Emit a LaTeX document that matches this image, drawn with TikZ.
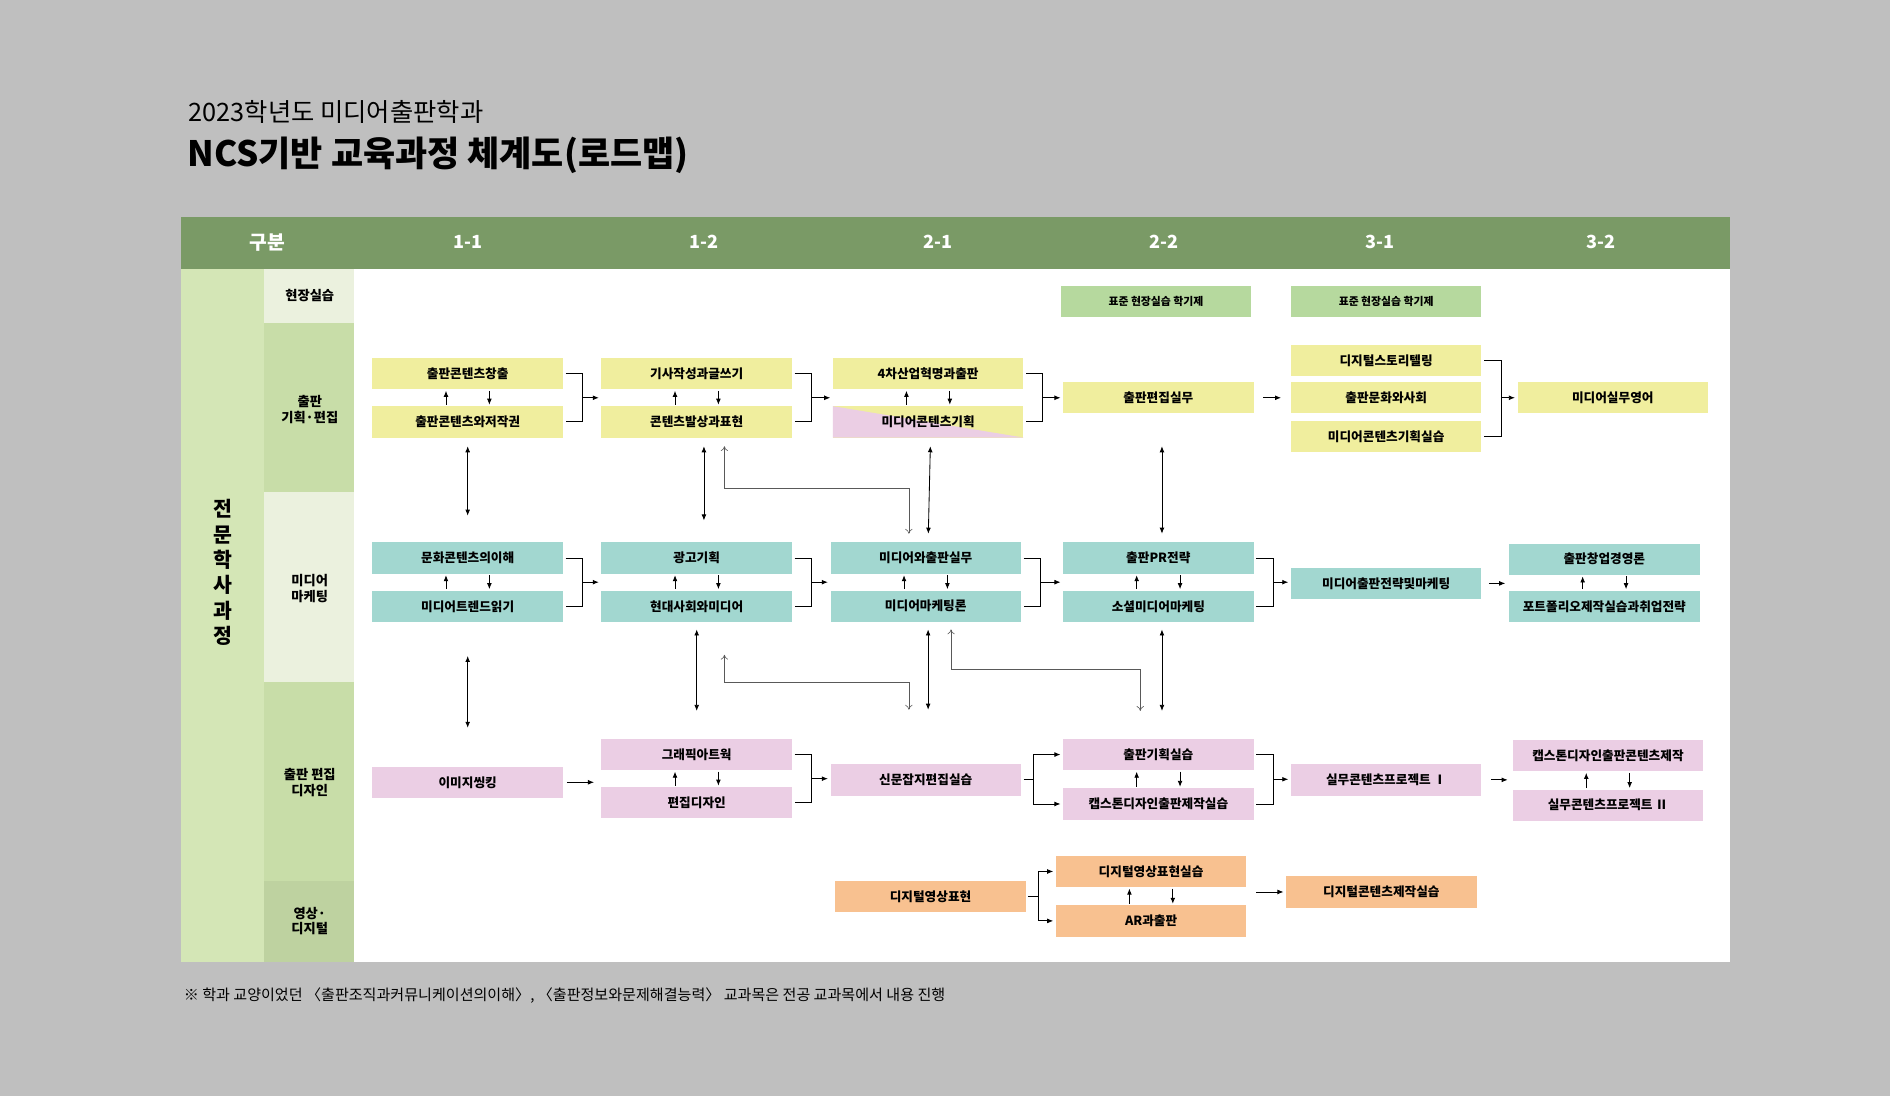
\documentclass[tikz,border=0pt]{standalone}
\usepackage{fontspec}
\setmainfont{Noto Sans CJK KR}
\usetikzlibrary{arrows.meta,calc}
\definecolor{bgc}{HTML}{BFBFBF}
\definecolor{headc}{HTML}{7A9A66}
\definecolor{sidec}{HTML}{D4E6B6}
\definecolor{rowa}{HTML}{EBF1DE}
\definecolor{rowb}{HTML}{C8DDA8}
\definecolor{yelc}{HTML}{F0EE9E}
\definecolor{tealc}{HTML}{A2D7D0}
\definecolor{pinkc}{HTML}{EBCEE4}
\definecolor{oranc}{HTML}{F8C190}
\definecolor{grnc}{HTML}{B6D99E}
\tikzset{
  course/.style={minimum width=158pt,minimum height=26pt,inner sep=0pt,
    font=\fontsize{10.5}{12}\selectfont\bfseries},
  yel/.style={course,fill=yelc},
  teal/.style={course,fill=tealc},
  pnk/.style={course,fill=pinkc},
  ora/.style={course,fill=oranc},
  grn/.style={course,fill=grnc,font=\fontsize{9}{11}\selectfont\bfseries},
  arr/.style={-{Latex[length=5pt,width=4pt]},line width=.7pt},
  dbl/.style={{Latex[length=5pt,width=4pt]}-{Latex[length=5pt,width=4pt]},line width=.7pt},
  link/.style={{To[length=4pt,width=6pt]}-{To[length=4pt,width=6pt]},gray!70!black,line width=.5pt},
  rowlab/.style={font=\fontsize{11}{13}\selectfont\bfseries,align=center},
}
% up/down arrows between a stacked pair
\newcommand\pairarr[2]{%
  \draw[arr,shorten <=1pt,shorten >=1pt] ([xshift=-18pt]#2.north) -- ([xshift=-18pt]#1.south);
  \draw[arr,shorten <=1pt,shorten >=1pt] ([xshift=18pt]#1.south) -- ([xshift=18pt]#2.north);}
% bracket joining a pair, arrow to the next box
\newcommand\merge[3]{%
  \draw[line width=.7pt] ([xshift=2pt]#1.east) -- ++(14,0) coordinate (m1) -- (m1 |- #2.east) coordinate (m2) -- ([xshift=2pt]#2.east);
  \draw[arr] ($(m1)!.5!(m2)$) coordinate (mm) -- ([xshift=-2pt]#3.west |- mm);}
% one box splitting to a pair
\newcommand\split[3]{%
  \draw[line width=.7pt] ([xshift=2pt]#1.east) -- ++(8,0) coordinate (s1);
  \draw[arr] (s1) |- ([xshift=-2pt]#2.west);
  \draw[arr] (s1) |- ([xshift=-2pt]#3.west);}
\begin{document}
\begin{tikzpicture}[x=1pt,y=-1pt]
\fill[bgc] (0,0) rectangle (1568,909);
\useasboundingbox (0,0) rectangle (1568,909);
% title
\node[anchor=west,font=\fontsize{21}{24}\selectfont] (t1) at (153,93) {2023학년도 미디어출판학과};
\node[anchor=west,font=\fontsize{29}{32}\selectfont\bfseries] (t2) at (152,129) {NCS기반 교육과정 체계도(로드맵)};
% table frame
\fill[headc] (150,180) rectangle (1435,223);
\fill[white] (294,223) rectangle (1435,798);
\fill[sidec] (150,223) rectangle (219,798);
\fill[rowa] (219,223) rectangle (294,268);
\fill[rowb] (219,268) rectangle (294,408);
\fill[rowa] (219,408) rectangle (294,566);
\fill[rowb] (219,566) rectangle (294,731);
\fill[rowb!95!black] (219,731) rectangle (294,798);
\node[white,font=\fontsize{16}{18}\selectfont\bfseries] (h0) at (222,201) {구분};
\foreach \x/\t in {388/1-1,584/1-2,778/2-1,966/2-2,1145/3-1,1328/3-2}
  \node[white,font=\fontsize{15}{17}\selectfont\bfseries] at (\x,201) {\t};
\node[font=\fontsize{17}{21}\selectfont\bfseries,align=center] (side) at (185,475) {전\\문\\학\\사\\과\\정};
\node[rowlab] (r1) at (257,245) {현장실습};
\node[rowlab] (r2) at (257,340) {출판\\기획·편집};
\node[rowlab] (r3) at (257,488) {미디어\\마케팅};
\node[rowlab] (r4) at (257,649) {출판 편집\\디자인};
\node[rowlab] (r5) at (257,764) {영상·\\디지털};
% field practice
\node[grn] (f1) at (959,250) {표준 현장실습 학기제};
\node[grn] (f2) at (1150,250) {표준 현장실습 학기제};
% publishing planning
\node[yel] (a1) at (388,310) {출판콘텐츠창출};
\node[yel] (a1b) at (388,350) {출판콘텐츠와저작권};
\node[yel] (a2) at (578,310) {기사작성과글쓰기};
\node[yel] (a2b) at (578,350) {콘텐츠발상과표현};
\node[yel] (a3) at (770,310) {4차산업혁명과출판};
\node[yel,path picture={\fill[pinkc] (path picture bounding box.north west) -- (path picture bounding box.south west) -- (path picture bounding box.south east) -- cycle;}] (a3b) at (770,350) {미디어콘텐츠기획};
\node[yel] (a4) at (961,330) {출판편집실무};
\node[yel] (a5a) at (1150,299) {디지털스토리텔링};
\node[yel] (a5) at (1150,330) {출판문화와사회};
\node[yel] (a5b) at (1150,362) {미디어콘텐츠기획실습};
\node[yel] (a6) at (1338,330) {미디어실무영어};
% media marketing
\node[teal] (b1) at (388,463) {문화콘텐츠의이해};
\node[teal] (b1b) at (388,503) {미디어트렌드읽기};
\node[teal] (b2) at (578,463) {광고기획};
\node[teal] (b2b) at (578,503) {현대사회와미디어};
\node[teal] (b3) at (768,463) {미디어와출판실무};
\node[teal] (b3b) at (768,503) {미디어마케팅론};
\node[teal] (b4) at (961,463) {출판PR전략};
\node[teal] (b4b) at (961,503) {소셜미디어마케팅};
\node[teal] (b5) at (1150,484) {미디어출판전략및마케팅};
\node[teal] (b6) at (1331,464) {출판창업경영론};
\node[teal] (b6b) at (1331,503) {포트폴리오제작실습과취업전략};
% editorial design
\node[pnk] (c1) at (388,649) {이미지씽킹};
\node[pnk] (c2) at (578,626) {그래픽아트웍};
\node[pnk] (c2b) at (578,666) {편집디자인};
\node[pnk] (c3) at (768,647) {신문잡지편집실습};
\node[pnk] (c4) at (961,626) {출판기획실습};
\node[pnk] (c4b) at (961,667) {캡스톤디자인출판제작실습};
\node[pnk] (c5) at (1150,647) {실무콘텐츠프로젝트 Ⅰ};
\node[pnk] (c6) at (1334,627) {캡스톤디자인출판콘텐츠제작};
\node[pnk] (c6b) at (1334,668) {실무콘텐츠프로젝트 Ⅱ};
% video digital
\node[ora] (d3) at (772,744) {디지털영상표현};
\node[ora] (d4) at (955,723) {디지털영상표현실습};
\node[ora] (d4b) at (955,764) {AR과출판};
\node[ora] (d5) at (1146,740) {디지털콘텐츠제작실습};
% footnote
\node[anchor=west,font=\fontsize{12.5}{14}\selectfont] (note) at (149,826) {※ 학과 교양이었던 〈출판조직과커뮤니케이션의이해〉, 〈출판정보와문제해결능력〉 교과목은 전공 교과목에서 내용 진행};
% pairs
\pairarr{a1}{a1b} \pairarr{a2}{a2b} \pairarr{a3}{a3b}
\pairarr{b1}{b1b} \pairarr{b2}{b2b} \pairarr{b3}{b3b} \pairarr{b4}{b4b} \pairarr{b6}{b6b}
\pairarr{c2}{c2b} \pairarr{c4}{c4b} \pairarr{c6}{c6b} \pairarr{d4}{d4b}
% flows
\merge{a1}{a1b}{a2} \merge{a2}{a2b}{a3} \merge{a3}{a3b}{a4}
\draw[line width=.7pt] ([xshift=2pt]a5a.east) -- ++(14,0) coordinate (k1) -- (k1 |- a5b.east) -- ([xshift=2pt]a5b.east);
\draw[arr] (k1 |- a5.east) -- ([xshift=-2pt]a6.west);
\draw[arr,shorten <=8pt,shorten >=8pt] (a4) -- (a5);
\merge{b1}{b1b}{b2} \merge{b2}{b2b}{b3} \merge{b3}{b3b}{b4} \merge{b4}{b4b}{b5}
\draw[arr,shorten <=6pt,shorten >=3pt] (b5.east) -- (b6.west |- b5.east);
\draw[arr,shorten <=3pt,shorten >=6pt] (c1.east) -- (c2.west |- c1.east);
\merge{c2}{c2b}{c3} \split{c3}{c4}{c4b} \merge{c4}{c4b}{c5}
\draw[arr,shorten <=8pt,shorten >=4pt] (c5.east) -- (c6.west |- c5.east);
\split{d3}{d4}{d4b}
\draw[arr,shorten <=8pt,shorten >=2pt] (d4.east |- d5.west) -- (d5.west);
% between rows
\draw[dbl,shorten <=7pt,shorten >=22pt] (a1b.south) -- (b1.north);
\draw[dbl,shorten <=7pt,shorten >=18pt] ([xshift=6pt]a2b.south) -- ([xshift=6pt]b2.north);
\draw[dbl,shorten <=7pt,shorten >=7pt] ([xshift=2pt]a3b.south) -- ([xshift=2pt]b3.north);
\draw[dbl,shorten <=27pt,shorten >=7pt] ([xshift=3pt]a4.south) -- ([xshift=3pt]b4.north);
\draw[dbl,shorten <=28pt,shorten >=32pt] (b1b.south) -- (c1.north);
\draw[dbl,shorten <=6pt,shorten >=23pt] (b2b.south) -- (c2.north);
\draw[dbl,shorten <=6pt,shorten >=45pt] ([xshift=2pt]b3b.south) -- ([xshift=2pt]c3.north);
\draw[dbl,shorten <=6pt,shorten >=23pt] ([xshift=3pt]b4b.south) -- ([xshift=3pt]c4.north);
% cross links
\draw[link,shorten <=7pt,shorten >=7pt] ([xshift=23pt]a2b.south) -- ++(0,42) -| ([xshift=-14pt]b3.north);
\draw[link,shorten <=27pt,shorten >=45pt] ([xshift=23pt]b2b.south) -- ++(0,50) -| ([xshift=-14pt]c3.north);
\draw[link,shorten <=6pt,shorten >=23pt] ([xshift=21pt]b3b.south) -- ++(0,39) -| ([xshift=-15pt]c4.north);
\end{tikzpicture}
\end{document}
